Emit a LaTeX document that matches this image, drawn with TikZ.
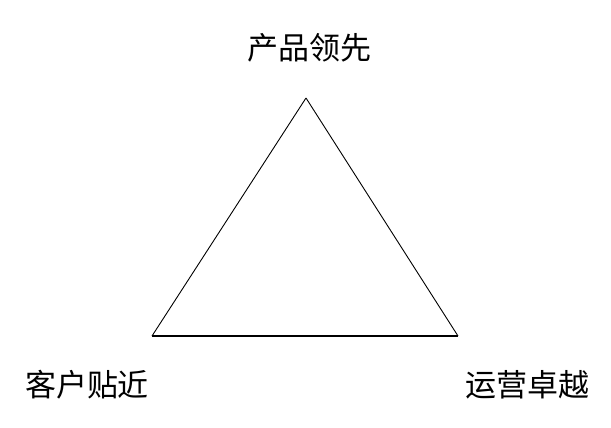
\documentclass[tikz,border=0pt]{standalone}
\usepackage{fontspec}
\newfontfamily\cjk{Noto Sans CJK SC}
\begin{document}
\begin{tikzpicture}[x=1pt,y=-1pt,line width=0.9pt]
\tikzset{label/.style={font=\cjk\fontsize{31}{31}\selectfont,inner sep=0pt}}
\useasboundingbox (0,0) rectangle (611,428);

\coordinate (top)   at (306,98);
\coordinate (left)  at (152,336);
\coordinate (right) at (458,336);

\node[label] (prod) at (309,48)  {产品领先};
\node[label] (cust) at (87,385)  {客户贴近};
\node[label] (oper) at (527,385) {运营卓越};

\draw (top) -- (left);
\draw (top) -- (right);
\draw[line width=1.3pt] (left) -- (right);

\end{tikzpicture}
\end{document}
